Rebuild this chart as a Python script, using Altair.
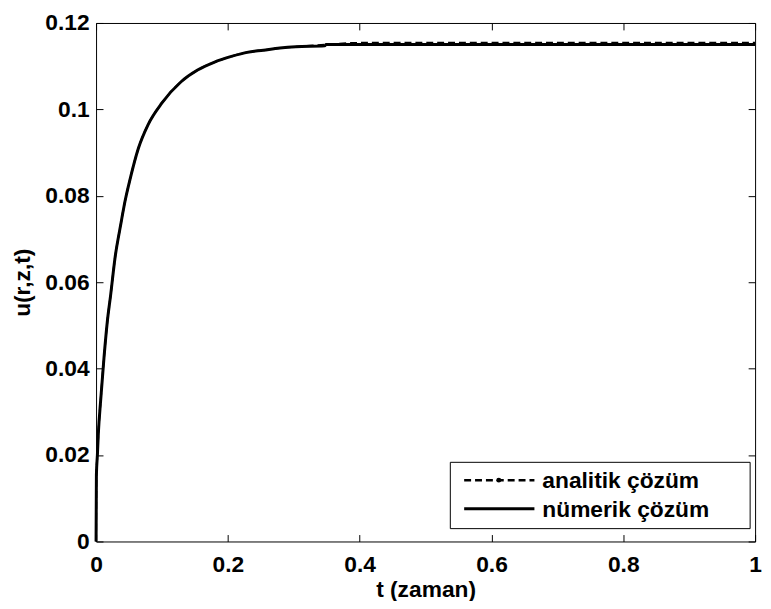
import altair as alt
import pandas as pd

# ---- data ----
t_num = [0, 0.0005, 0.002, 0.0035, 0.007, 0.012, 0.017, 0.022, 0.029, 0.037, 0.044,
         0.052, 0.064, 0.079, 0.100, 0.129, 0.154, 0.179, 0.204, 0.229, 0.254, 0.279,
         0.303, 0.347, 0.349, 1.0]
u_num = [0, 0.0153, 0.0200, 0.0251, 0.0327, 0.0425, 0.0508, 0.0569, 0.0659, 0.0730, 0.0788,
         0.0841, 0.0909, 0.0965, 0.1015, 0.1064, 0.1091, 0.1109, 0.1122, 0.1132, 0.1137, 0.1142,
         0.1145, 0.1147, 0.1150, 0.1150]

t_ana = [0, 0.0005, 0.002, 0.0035, 0.007, 0.012, 0.017, 0.022, 0.029, 0.037, 0.044,
         0.052, 0.064, 0.079, 0.100, 0.129, 0.154, 0.179, 0.204, 0.229, 0.254, 0.279,
         0.303, 0.350, 0.400, 1.0]
u_ana = [0, 0.0153, 0.0200, 0.0251, 0.0327, 0.0425, 0.0508, 0.0569, 0.0659, 0.0730, 0.0788,
         0.0841, 0.0909, 0.0965, 0.1015, 0.1064, 0.1091, 0.1109, 0.1122, 0.1132, 0.1137, 0.1142,
         0.1145, 0.1150, 0.1154, 0.1154]

x_ticks = [0, 0.2, 0.4, 0.6, 0.8, 1.0]
y_ticks = [0, 0.02, 0.04, 0.06, 0.08, 0.1, 0.12]
legend_labels = ["analitik çözüm", "nümerik çözüm"]
x_title = "t (zaman)"
y_title = "u(r,z,t)"

# ---- styling ----
W, H = 666, 524
FONT = "Liberation Sans"
FS = 23
TICK = 7

num_df = pd.DataFrame({"t": t_num, "u": u_num})
ana_df = pd.DataFrame({"t": t_ana, "u": u_ana})

xs = alt.Scale(domain=[0, 1], nice=False, zero=False)
ys = alt.Scale(domain=[0, 0.12], nice=False, zero=False)

common = dict(
    labelFont=FONT, labelFontSize=FS, labelFontWeight="bold", labelColor="black",
    titleFont=FONT, titleFontSize=FS, titleFontWeight="bold", titleColor="black",
    tickColor="black", tickWidth=1, tickSize=TICK, offset=-TICK, domain=False,
    grid=False, labelFlush=False, labelOverlap=False,
)

x_bottom = alt.Axis(orient="bottom", values=x_ticks, format=".2~f", labelPadding=12,
                    title=x_title, titlePadding=3, **common)
y_left = alt.Axis(orient="left", values=y_ticks, format=".2~f", labelPadding=7,
                  title=y_title, titlePadding=11, **common)
x_top = alt.Axis(orient="top", values=x_ticks, labels=False, title=None, **common)
y_right = alt.Axis(orient="right", values=y_ticks, labels=False, title=None, **common)

ana_line = alt.Chart(ana_df).mark_line(
    color="black", strokeWidth=2, strokeDash=[7, 4], interpolate="monotone"
).encode(
    x=alt.X("t:Q", scale=xs, axis=x_top),
    y=alt.Y("u:Q", scale=ys, axis=y_right),
)

num_line = alt.Chart(num_df).mark_line(
    color="black", strokeWidth=3, interpolate="monotone"
).encode(
    x=alt.X("t:Q", scale=xs, axis=x_bottom),
    y=alt.Y("u:Q", scale=ys, axis=y_left),
)

# ---- legend box (drawn in plot pixel space) ----
one = pd.DataFrame({"k": [0]})
box = alt.Chart(one).mark_rect(fill="white", stroke="black", strokeWidth=1).encode(
    x=alt.value(358), x2=alt.value(661), y=alt.value(444), y2=alt.value(511)
)
ana_sym = alt.Chart(one).mark_rule(color="black", strokeWidth=2.5, strokeDash=[7, 4]).encode(
    x=alt.value(372), x2=alt.value(443), y=alt.value(462)
)
ana_dot = alt.Chart(one).mark_point(filled=True, color="black", size=25, opacity=1).encode(
    x=alt.value(407), y=alt.value(462)
)
num_sym = alt.Chart(one).mark_rule(color="black", strokeWidth=3).encode(
    x=alt.value(372), x2=alt.value(443), y=alt.value(491)
)
lab1 = alt.Chart(pd.DataFrame({"label": [legend_labels[0]]})).mark_text(
    align="left", baseline="middle", font=FONT, fontSize=FS, fontWeight="bold", color="black"
).encode(text="label:N", x=alt.value(451), y=alt.value(463))
lab2 = alt.Chart(pd.DataFrame({"label": [legend_labels[1]]})).mark_text(
    align="left", baseline="middle", font=FONT, fontSize=FS, fontWeight="bold", color="black"
).encode(text="label:N", x=alt.value(451), y=alt.value(492))

chart = alt.layer(
    ana_line, num_line, box, ana_sym, ana_dot, num_sym, lab1, lab2
).resolve_axis(
    x="independent", y="independent"
).properties(
    width=W, height=H,
    autosize=alt.AutoSizeParams(type="none"),
    padding={"left": 89, "top": 12, "right": 8, "bottom": 57},
    background="white",
).configure_view(
    stroke="black", strokeWidth=1
)

chart.save("out.html", embed_options={"renderer": "svg", "actions": False})
